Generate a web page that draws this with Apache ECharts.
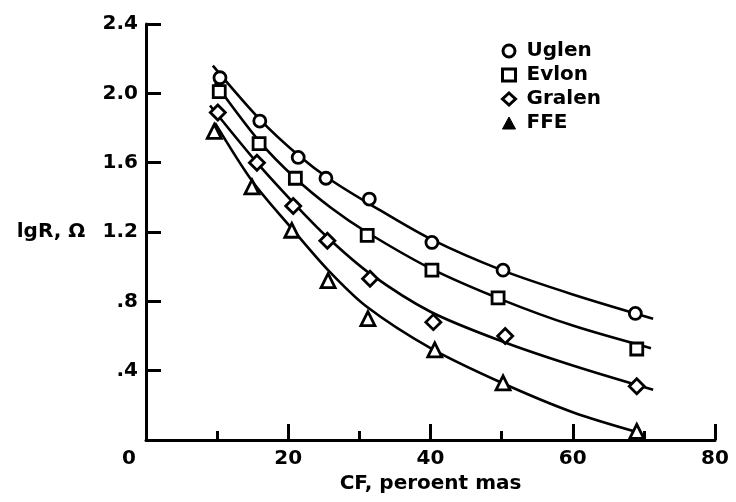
<!DOCTYPE html>
<html>
<head>
<meta charset="utf-8">
<script src="https://cdn.jsdelivr.net/npm/echarts@6/dist/echarts.min.js"></script>
<style>
html,body{margin:0;padding:0;background:#fff;}
#chart{width:736px;height:502px;}
</style>
</head>
<body>
<div id="chart"></div>
<script>
// ---- data ----
var seriesNames = ['Uglen', 'Evlon', 'Gralen', 'FFE'];
var symbols = ['circle', 'rect', 'diamond', 'triangle'];

var uglenPts = [[10.4,2.09],[16.0,1.84],[21.4,1.63],[25.3,1.51],[31.4,1.39],[40.2,1.14],[50.2,0.98],[68.8,0.73]];
var evlonPts = [[10.3,2.01],[15.9,1.71],[21.0,1.51],[31.1,1.18],[40.2,0.98],[49.5,0.82],[69.0,0.525]];
var gralenPts = [[10.1,1.89],[15.6,1.60],[20.7,1.35],[25.5,1.15],[31.5,0.93],[40.4,0.68],[50.5,0.60],[69.0,0.31]];
var ffePts = [[9.6,1.78],[14.9,1.46],[20.5,1.21],[25.6,0.92],[31.2,0.70],[40.6,0.52],[50.2,0.33],[69.0,0.05]];

var uglenCurve = [[9.4,2.16],[16,1.85],[21.5,1.64],[26,1.50],[31.5,1.36],[40,1.16],[50,0.98],[60,0.84],[71.3,0.70]];
var evlonCurve = [[9.7,2.06],[16,1.72],[21,1.51],[26,1.34],[31,1.20],[40,0.99],[50,0.81],[60,0.66],[71,0.53]];
var gralenCurve = [[9.0,1.93],[15.6,1.60],[20.7,1.37],[25.5,1.17],[31.5,0.96],[40,0.74],[50,0.57],[60,0.43],[71.3,0.29]];
var ffeCurve = [[9.7,1.83],[15,1.49],[20.5,1.22],[25.6,0.98],[31,0.77],[40,0.53],[50,0.33],[60,0.16],[69.5,0.04]];

var yTickValues = [0.4, 0.8, 1.2, 1.6, 2.0, 2.4];
var yTickLabels = ['.4', '.8', '1.2', '1.6', '2.0', '2.4'];
var xTickLabels = ['0', '20', '40', '60', '80'];

var pointSets = [uglenPts, evlonPts, gralenPts, ffePts];
var curveSets = [uglenCurve, evlonCurve, gralenCurve, ffeCurve];

var FONT = 'DejaVu Sans';
var chart = echarts.init(document.getElementById('chart'), null, {renderer: 'canvas'});

var sizes = {circle: 12, rect: 12, diamond: 15, triangle: 14};

var series = [];
curveSets.forEach(function (c, i) {
  series.push({
    name: seriesNames[i] + ' curve',
    type: 'line',
    data: c,
    smooth: 0.3,
    showSymbol: false,
    silent: true,
    lineStyle: {color: '#000', width: 2.6},
    z: 2
  });
});
pointSets.forEach(function (p, i) {
  series.push({
    name: seriesNames[i],
    type: 'scatter',
    data: p,
    symbol: symbols[i],
    symbolSize: sizes[symbols[i]],
    itemStyle: {color: '#fff', borderColor: '#000', borderWidth: 2.8, opacity: 1},
    z: 5
  });
});

var legendData = seriesNames.map(function (n, i) {
  var item = {name: n, icon: symbols[i]};
  if (symbols[i] === 'triangle') {
    item.itemStyle = {color: '#000', borderColor: '#000', borderWidth: 1, opacity: 1};
  } else {
    item.itemStyle = {color: '#fff', borderColor: '#000', borderWidth: 3, opacity: 1};
  }
  return item;
});

chart.setOption({
  backgroundColor: '#fff',
  animation: false,
  textStyle: {fontFamily: FONT},
  grid: {left: 146, right: 21, top: 24, bottom: 62},
  legend: {
    orient: 'vertical',
    left: 496,
    top: 36,
    itemWidth: 13,
    itemHeight: 12,
    itemGap: 4,
    data: legendData,
    textStyle: {color: '#000', fontFamily: FONT, fontWeight: 'bold', fontSize: 20, lineHeight: 20, padding: [0, 0, 0, 6]}
  },
  xAxis: {
    type: 'value',
    min: 0,
    max: 80,
    interval: 20,
    name: 'CF, peroent mas',
    nameLocation: 'middle',
    nameGap: 30,
    nameTextStyle: {color: '#000', fontFamily: FONT, fontWeight: 'bold', fontSize: 20},
    axisLine: {show: true, onZero: false, lineStyle: {color: '#000', width: 3}},
    axisTick: {show: true, inside: true, length: 16, lineStyle: {color: '#000', width: 3}},
    minorTick: {show: true, splitNumber: 2, length: 9, lineStyle: {color: '#000', width: 3}},
    splitLine: {show: false},
    axisLabel: {
      color: '#000', fontFamily: FONT, fontWeight: 'bold', fontSize: 20, margin: 9,
      formatter: function (v) {
        var s = xTickLabels[Math.round(v / 20)];
        return v === 0 ? '{z|' + s + '}' : s;
      },
      rich: {z: {color: '#000', fontFamily: FONT, fontWeight: 'bold', fontSize: 20, padding: [0, 34, 0, 0]}}
    }
  },
  yAxis: {
    type: 'value',
    min: 0,
    max: 2.4,
    interval: 0.4,
    name: 'lgR, Ω',
    nameLocation: 'middle',
    nameRotate: 0,
    nameGap: 95,
    nameTextStyle: {color: '#000', fontFamily: FONT, fontWeight: 'bold', fontSize: 20, align: 'center', verticalAlign: 'middle'},
    axisLine: {show: true, onZero: false, lineStyle: {color: '#000', width: 3}},
    axisTick: {show: true, inside: true, length: 15, lineStyle: {color: '#000', width: 3}},
    splitLine: {show: false},
    axisLabel: {
      color: '#000', fontFamily: FONT, fontWeight: 'bold', fontSize: 20, margin: 8,
      showMinLabel: false,
      formatter: function (v) {
        for (var k = 0; k < yTickValues.length; k++) {
          if (Math.abs(yTickValues[k] - v) < 1e-6) return yTickLabels[k];
        }
        return '';
      }
    }
  },
  series: series
});
</script>
</body>
</html>
